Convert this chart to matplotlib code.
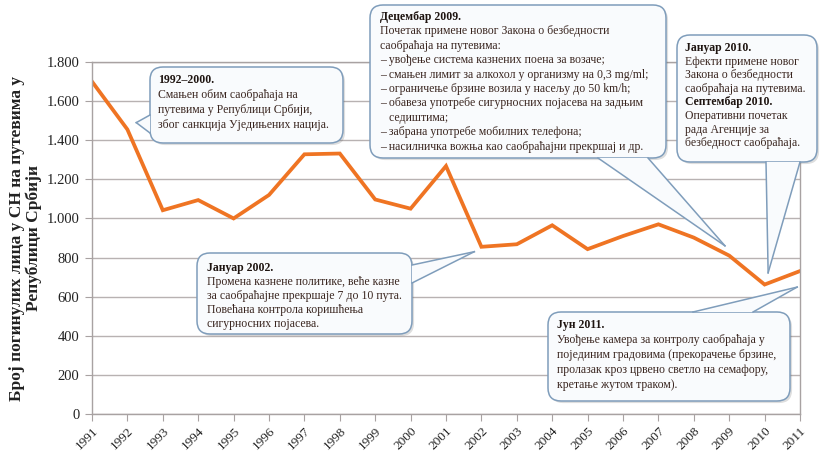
import matplotlib
matplotlib.use("Agg")
import matplotlib.pyplot as plt
from matplotlib.ticker import FuncFormatter
from matplotlib.patches import FancyBboxPatch, Polygon
from matplotlib.lines import Line2D
import matplotlib.patheffects as pe

# ---------------- data ----------------
years = list(range(1991, 2012))
deaths = [1700, 1455, 1042, 1094, 1000, 1120, 1328, 1332, 1097, 1050, 1268,
          855, 868, 965, 843, 910, 970, 902, 810, 662, 731]
yticks = list(range(0, 1801, 200))
ylabel = "Број погинулих лица у СН на путевима у\nРепублици Србији"

note_1992 = [("1992–2000.", True),
             ("Смањен обим саобраћаја на", False),
             ("путевима у Републици Србији,", False),
             ("због санкција Уједињених нација.", False)]
note_2009 = [("Децембар 2009.", True),
             ("Почетак примене новог Закона о безбедности", False),
             ("саобраћаја на путевима:", False),
             ("– увођење система казнених поена за возаче;", False),
             ("– смањен лимит за алкохол у организму на 0,3 mg/ml;", False),
             ("– ограничење брзине возила у насељу до 50 km/h;", False),
             ("– обавеза употребе сигурносних појасева на задњим", False),
             ("   седиштима;", False),
             ("– забрана употребе мобилних телефона;", False),
             ("– насилничка вожња као саобраћајни прекршај и др.", False)]
note_2010 = [("Јануар 2010.", True),
             ("Ефекти примене новог", False),
             ("Закона о безбедности", False),
             ("саобраћаја на путевима.", False),
             ("Септембар 2010.", True),
             ("Оперативни почетак", False),
             ("рада Агенције за", False),
             ("безбедност саобраћаја.", False)]
note_2002 = [("Јануар 2002.", True),
             ("Промена казнене политике, веће казне", False),
             ("за саобраћајне прекршаје 7 до 10 пута.", False),
             ("Повећана контрола коришћења", False),
             ("сигурносних појасева.", False)]
note_2011 = [("Јун 2011.", True),
             ("Увођење камера за контролу саобраћаја у", False),
             ("појединим градовима (прекорачење брзине,", False),
             ("пролазак кроз црвено светло на семафору,", False),
             ("кретање жутом траком).", False)]

# ---------------- style ----------------
plt.rcParams['font.family'] = ['Liberation Serif', 'DejaVu Serif']
W, H = 825, 457
fig = plt.figure(figsize=(W / 100, H / 100), dpi=100)
fig.patch.set_facecolor('white')
ax = fig.add_axes([92 / W, 1 - 414 / H, (800 - 92) / W, (414 - 62) / H])

ax.plot(years, deaths, color='#ef7423', lw=2.7, solid_joinstyle='miter', zorder=2)
ax.set_xlim(1991, 2011)
ax.set_ylim(0, 1800)
ax.set_xticks(years)
ax.set_xticklabels([str(y) for y in years], rotation=45, ha='right',
                   rotation_mode='anchor', fontsize=9.5, color='#222222')
ax.set_yticks(yticks)
ax.yaxis.set_major_formatter(FuncFormatter(lambda v, p: f"{int(v):,}".replace(",", ".")))
ax.tick_params(axis='y', labelsize=10.5, length=5, color='#a8a2a2', pad=4, labelcolor='#222222')
ax.tick_params(axis='x', length=5, color='#a8a2a2', pad=3)
ax.grid(axis='y', color='#b8b2b2', lw=1)
ax.set_axisbelow(True)
for s in ax.spines.values():
    s.set_color('#a8a2a2')
    s.set_linewidth(1)
ax.set_ylabel(ylabel, fontsize=12.5, fontweight='bold', labelpad=3, color='#222222',
              linespacing=1.05)

FS = 8.5
EC = '#7f9dbb'
FC = '#f9fbfd'


def px(x, y):
    """figure pixel (top-left origin) -> display coords"""
    return (x, H - y)


def callout(note, box, text_x, first_y, lh, base, tip):
    x0, y0, x1, y1 = box
    bx = FancyBboxPatch(px(x0, y1), x1 - x0, y1 - y0,
                        boxstyle="round,pad=0,rounding_size=13",
                        transform=None, fc=FC, ec=EC, lw=1.1, zorder=5)
    bx.set_path_effects([pe.SimplePatchShadow(offset=(1.5, -1.5), alpha=0.18),
                         pe.Normal()])
    fig.add_artist(bx)
    tipd = tuple(ax.transData.transform(tip))
    p1, p2 = px(*base[0]), px(*base[1])
    fig.add_artist(Polygon([p1, tipd, p2], closed=True, transform=None,
                           fc=FC, ec='none', zorder=5.5))
    for p in (p1, p2):
        fig.add_artist(Line2D([p[0], tipd[0]], [p[1], tipd[1]], transform=None,
                              color=EC, lw=1.1, zorder=5.6))
    for i, (t, b) in enumerate(note):
        fig.text(text_x / W, 1 - (first_y + i * lh) / H, t, ha='left', va='center',
                 fontsize=FS, fontweight='bold' if b else 'normal',
                 color='#1e1410' if b else '#3a2620', zorder=6)


callout(note_1992, (150, 67, 343, 143), 158, 80, 15,
        [(150, 115), (150, 133)], (1992.25, 1490))
callout(note_2009, (370, 5, 666, 158), 380, 17, 14.4,
        [(598, 158), (648, 158)], (2008.88, 860))
callout(note_2010, (677, 35, 817, 162), 685, 48, 13.6,
        [(766, 162), (800, 162)], (2010.1, 722))
callout(note_2002, (197, 253, 412, 334), 207, 268, 14,
        [(412, 265), (412, 283)], (2001.8, 830))
callout(note_2011, (548, 312, 790, 401), 557, 325, 15,
        [(693, 312), (753, 312)], (2010.92, 649))

fig.savefig("out.png", dpi=100, facecolor='white')
